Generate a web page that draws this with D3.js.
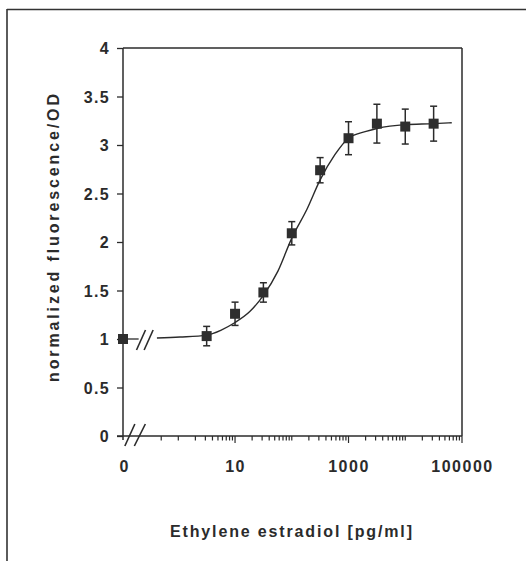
<!DOCTYPE html>
<html>
<head>
<meta charset="utf-8">
<script src="https://cdn.jsdelivr.net/npm/d3@7/dist/d3.min.js"></script>
<style>
  html, body { margin: 0; padding: 0; background: #ffffff; }
  svg { display: block; }
  text { font-family: "Liberation Sans", Arial, sans-serif; font-weight: bold; fill: #2b2b2b; }
</style>
</head>
<body>
<script>
// ---- data ----
const concentrations = [0, 3.16, 10, 31.6, 100, 316, 1000, 3162, 10000, 31623];
const meanValues     = [1.00, 1.03, 1.26, 1.48, 2.09, 2.74, 3.07, 3.22, 3.19, 3.22];
const errorValues    = [0.04, 0.10, 0.12, 0.10, 0.12, 0.13, 0.17, 0.20, 0.18, 0.18];

// fitted sigmoid curve
const fitConcentrations = [0.42, 1.07, 3.16, 5.6, 10, 18, 31.6, 57, 100, 186, 316, 575, 1000, 2040, 3162, 10000, 31623, 66000];
const fitValues         = [1.01, 1.02, 1.04, 1.09, 1.17, 1.28, 1.45, 1.70, 2.04, 2.34, 2.64, 2.90, 3.07, 3.14, 3.17, 3.21, 3.22, 3.23];

const yTickValues = [0, 0.5, 1, 1.5, 2, 2.5, 3, 3.5, 4];
const yTickLabels = ["0", "0.5", "1", "1.5", "2", "2.5", "3", "3.5", "4"];
const xTickValues = [0, 10, 1000, 100000];
const xTickLabels = ["0", "10", "1000", "100000"];
const xTitle = "Ethylene estradiol [pg/ml]";
const yTitle = "normalized fluorescence/OD";

// ---- layout ----
const W = 526, H = 561;
const plot = { left: 123, right: 462, top: 48, bottom: 436 };
const ink = "#2b2b2b";

const svg = d3.select("body").append("svg").attr("width", W).attr("height", H);
svg.append("rect").attr("width", W).attr("height", H).attr("fill", "#fff");

// outer figure border (top and left visible)
svg.append("line").attr("x1", 7).attr("x2", W).attr("y1", 9.5).attr("y2", 9.5)
  .attr("stroke", "#333").attr("stroke-width", 1.6);
svg.append("line").attr("x1", 7).attr("x2", 7).attr("y1", 9).attr("y2", H)
  .attr("stroke", "#333").attr("stroke-width", 1.6);

const x = d3.scaleLog().domain([0.106, 100000]).range([plot.left, plot.right]);
const y = d3.scaleLinear().domain([0, 4]).range([plot.bottom, plot.top]);
const xPos = v => v === 0 ? plot.left : x(v);

// frame
svg.append("line").attr("x1", plot.left).attr("x2", plot.right).attr("y1", plot.top).attr("y2", plot.top)
  .attr("stroke", ink).attr("stroke-width", 1.5);
svg.append("line").attr("x1", plot.right).attr("x2", plot.right).attr("y1", plot.top).attr("y2", plot.bottom)
  .attr("stroke", ink).attr("stroke-width", 1.5);

// y axis
const yAxis = d3.axisLeft(y).tickValues(yTickValues).tickSize(6).tickSizeOuter(0)
  .tickFormat((d, i) => yTickLabels[i]);
const gy = svg.append("g").attr("transform", `translate(${plot.left},0)`).call(yAxis);
gy.select(".domain").remove();
gy.selectAll(".tick line").attr("stroke", ink).attr("stroke-width", 1.3);
gy.selectAll(".tick text").attr("x", -13).attr("dy", "0.36em")
  .style("font-size", "16px").style("letter-spacing", "1.3px").attr("fill", ink).attr("font-family", null);
svg.append("line").attr("x1", plot.left).attr("x2", plot.left).attr("y1", plot.top).attr("y2", plot.bottom + 4)
  .attr("stroke", ink).attr("stroke-width", 1.5);

// x axis line
svg.append("line").attr("x1", plot.left - 6).attr("x2", plot.right).attr("y1", plot.bottom).attr("y2", plot.bottom)
  .attr("stroke", ink).attr("stroke-width", 1.5);

// x minor ticks (log)
const minorTicks = [0.5];
for (let k = 0; k < 5; k++) for (let m = 1; m <= 9; m++) minorTicks.push(m * Math.pow(10, k));
minorTicks.push(100000);
svg.append("g").selectAll("line").data(minorTicks).join("line")
  .attr("x1", d => x(d)).attr("x2", d => x(d))
  .attr("y1", plot.bottom)
  .attr("y2", d => (d === 10 || d === 1000 || d === 100000) ? plot.bottom + 7 : plot.bottom + 4.5)
  .attr("stroke", ink).attr("stroke-width", 1.2);

// x tick labels
const xAxis = d3.axisBottom(x).tickValues(xTickValues.filter(v => v > 0)).tickSize(0)
  .tickFormat(d => xTickLabels[xTickValues.indexOf(d)]);
const gx = svg.append("g").attr("transform", `translate(0,${plot.bottom})`).call(xAxis);
gx.select(".domain").remove();
gx.selectAll(".tick text").attr("y", 30).attr("dy", "0.36em")
  .style("font-size", "16px").style("letter-spacing", "1.5px").attr("fill", ink).attr("font-family", null);
// "0" label at the broken origin
svg.append("text").attr("x", xPos(0) + 1).attr("y", plot.bottom + 30).attr("dy", "0.36em")
  .attr("text-anchor", "middle").style("font-size", "16px").text(xTickLabels[0]);

// axis break slashes
function slash(cx, cy, dx, dy) {
  svg.append("line").attr("x1", cx - dx).attr("y1", cy + dy).attr("x2", cx + dx).attr("y2", cy - dy)
    .attr("stroke", ink).attr("stroke-width", 1.6);
}
slash(x(0.14), plot.bottom - 1, 5, 11);
slash(x(0.21), plot.bottom - 1, 5.5, 11);

// line segment from zero point to break, and break slashes
svg.append("line").attr("x1", xPos(0)).attr("x2", x(0.2)).attr("y1", y(meanValues[0])).attr("y2", y(meanValues[0]))
  .attr("stroke", ink).attr("stroke-width", 1.3);
slash(x(0.22), y(meanValues[0]) + 1, 4.5, 10);
slash(x(0.30), y(meanValues[0]) + 1, 4.5, 10);

// fitted curve
const fitPts = fitConcentrations.map((c, i) => [x(c), y(fitValues[i])]);
svg.append("path").datum(fitPts)
  .attr("d", d3.line().curve(d3.curveMonotoneX))
  .attr("fill", "none").attr("stroke", ink).attr("stroke-width", 1.4);

// error bars
const pts = concentrations.map((c, i) => ({ c, v: meanValues[i], e: errorValues[i] }));
const eb = svg.append("g").attr("stroke", ink).attr("stroke-width", 1.5);
eb.selectAll(".v").data(pts).join("line")
  .attr("x1", d => xPos(d.c)).attr("x2", d => xPos(d.c))
  .attr("y1", d => y(d.v - d.e)).attr("y2", d => y(d.v + d.e));
eb.selectAll(".t").data(pts).join("line")
  .attr("x1", d => xPos(d.c) - 3.5).attr("x2", d => xPos(d.c) + 3.5)
  .attr("y1", d => y(d.v + d.e)).attr("y2", d => y(d.v + d.e));
eb.selectAll(".b").data(pts).join("line")
  .attr("x1", d => xPos(d.c) - 3.5).attr("x2", d => xPos(d.c) + 3.5)
  .attr("y1", d => y(d.v - d.e)).attr("y2", d => y(d.v - d.e));

// square markers
svg.append("g").selectAll("rect").data(pts).join("rect")
  .attr("x", d => xPos(d.c) - 5).attr("y", d => y(d.v) - 5)
  .attr("width", 10).attr("height", 10).attr("fill", "#2e2e2e");

// titles
svg.append("text").attr("x", 291).attr("y", 537).attr("text-anchor", "middle")
  .style("font-size", "16px").attr("textLength", 242).attr("lengthAdjust", "spacing").text(xTitle);
svg.append("text").attr("transform", "translate(59,238) rotate(-90)").attr("text-anchor", "middle")
  .style("font-size", "16px").attr("textLength", 288).attr("lengthAdjust", "spacing").text(yTitle);
</script>
</body>
</html>
